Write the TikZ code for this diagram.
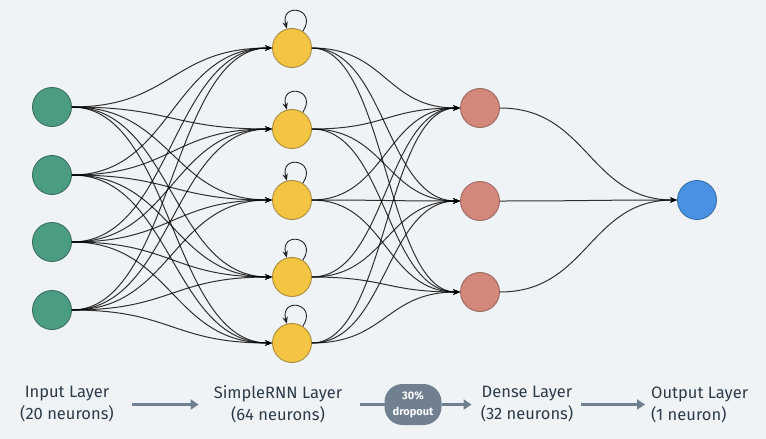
\documentclass[tikz,border=0pt]{standalone}
\usepackage{fontspec}
\setmainfont{Fira Sans}
\usetikzlibrary{arrows.meta, positioning}

\definecolor{bgcol}{HTML}{EFF3F6}
\definecolor{incol}{HTML}{4A9D82}
\definecolor{inedge}{HTML}{3B6E5C}
\definecolor{rnncol}{HTML}{F3C542}
\definecolor{rnnedge}{HTML}{A88A3A}
\definecolor{dencol}{HTML}{D4877B}
\definecolor{denedge}{HTML}{9B6A62}
\definecolor{outcol}{HTML}{4A91E3}
\definecolor{outedge}{HTML}{3A6EA8}
\definecolor{flowcol}{HTML}{708090}
\definecolor{textcol}{HTML}{2D3B48}

\begin{document}
\begin{tikzpicture}[x=1pt, y=1pt,
    neuron/.style={circle, draw, line width=0.9pt, minimum size=39pt, inner sep=0pt},
    link/.style={draw=black, line width=1pt, opacity=0.8, -{Stealth[length=7pt, width=5.5pt]}},
    selfloop/.style={draw=black!85, line width=0.9pt, -{Stealth[length=7pt, width=5.5pt]}},
    caption/.style={align=center, text=textcol, font=\fontsize{16.5}{22}\selectfont, inner sep=0pt},
    flow/.style={draw=flowcol, line width=3pt, -{Triangle[length=8pt, width=10pt]}},
    dropbox/.style={fill=flowcol, rounded corners=18pt, minimum width=57pt, minimum height=41pt,
        inner sep=0pt, align=center, text=white, font=\bfseries\fontsize{11}{16}\selectfont}]
        % Background
        \fill[bgcol] (0,0) rectangle (766,-439);
        \useasboundingbox (0,0) rectangle (766,-439);
        % Define the nodes
        \node[neuron, fill=incol, draw=inedge] (i1) at (52,-107) {};
        \node[neuron, fill=incol, draw=inedge] (i2) at (52,-175) {};
        \node[neuron, fill=incol, draw=inedge] (i3) at (52,-242) {};
        \node[neuron, fill=incol, draw=inedge] (i4) at (52,-310) {};
        \node[neuron, fill=rnncol, draw=rnnedge] (r1) at (292,-48) {};
        \node[neuron, fill=rnncol, draw=rnnedge] (r2) at (292,-129) {};
        \node[neuron, fill=rnncol, draw=rnnedge] (r3) at (292,-200) {};
        \node[neuron, fill=rnncol, draw=rnnedge] (r4) at (292,-277) {};
        \node[neuron, fill=rnncol, draw=rnnedge] (r5) at (292,-343) {};
        \node[neuron, fill=dencol, draw=denedge] (d1) at (480,-108) {};
        \node[neuron, fill=dencol, draw=denedge] (d2) at (480,-201) {};
        \node[neuron, fill=dencol, draw=denedge] (d3) at (480,-292) {};
        \node[neuron, fill=outcol, draw=outedge] (o1) at (697,-200) {};
        % Define the connections
        \foreach \a in {1,...,4}
            \foreach \b in {1,...,5}
                \path[link] (i\a.east) .. controls +(100,0) and +(-100,0) .. (r\b.west);
        \foreach \a in {1,...,5}
            \foreach \b in {1,...,3}
                \path[link] (r\a.east) .. controls +(74,0) and +(-74,0) .. (d\b.west);
        \foreach \a in {1,...,3}
            \path[link] (d\a.east) .. controls +(88,0) and +(-88,0) .. (o1.west);
        \foreach \b in {1,...,5}
            \path[selfloop] (r\b) edge[out=57, in=105, min distance=28pt] (r\b);
        % Legend
        \node[caption] (cin) at (67,-404.5) {Input Layer\\(20 neurons)};
        \node[caption] (crnn) at (278,-404.5) {SimpleRNN Layer\\(64 neurons)};
        \node[caption] (cden) at (527,-404.5) {Dense Layer\\(32 neurons)};
        \node[caption, align=left, anchor=west] (cout) at (651,-404.5) {Output Layer\\(1 neuron)};
        \coordinate (mid) at (413,-404.5);
        \draw[flow, shorten <=18pt, shorten >=15pt] (cin.east |- mid) -- (crnn.west |- mid);
        \draw[flow, -, shorten <=18pt] (crnn.east |- mid) -- (mid);
        \node[dropbox] (drop) at (mid) {30\%\\dropout};
        \draw[flow, shorten >=9pt] (drop.east) -- (cden.west |- mid);
        \draw[flow, shorten <=8pt, shorten >=6pt] (cden.east |- mid) -- (cout.west |- mid);
\end{tikzpicture}
\end{document}
